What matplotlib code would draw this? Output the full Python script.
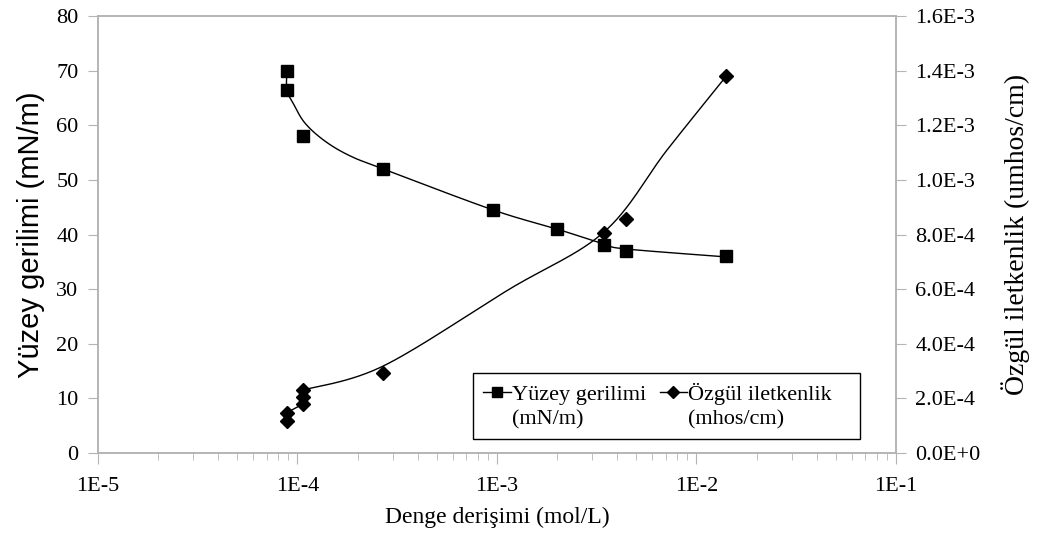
import numpy as np
import matplotlib
matplotlib.use("Agg")
import matplotlib.pyplot as plt
from matplotlib.patches import Rectangle
from matplotlib.ticker import FixedLocator, LogLocator, NullFormatter

# measured points: equilibrium concentration (mol/L)
conc_st = [8.85e-5, 8.85e-5, 1.07e-4, 2.69e-4, 9.55e-4, 2.0e-3, 3.44e-3, 4.44e-3, 1.41e-2]
surface_tension = [70.0, 66.5, 58.0, 52.0, 44.5, 41.0, 38.0, 37.0, 36.0]

conc_k = [8.85e-5, 8.85e-5, 1.07e-4, 1.07e-4, 1.07e-4, 2.69e-4, 3.44e-3, 4.44e-3, 1.41e-2]
conductivity = [1.17e-4, 1.48e-4, 1.80e-4, 2.05e-4, 2.30e-4, 2.93e-4, 8.05e-4, 8.57e-4, 1.38e-3]

# smoothed trend curves drawn through the data
fit_st_x = [8.85e-5, 8.85e-5, 9.49e-5, 1.09e-4, 1.373e-4, 1.833e-4, 2.69e-4,
            9.55e-4, 2.0e-3, 3.44e-3, 4.44e-3, 1.41e-2]
fit_st_y = [70.1, 66.45, 64.1, 60.4, 57.1, 54.4, 52.0,
            44.5, 41.0, 38.26, 37.35, 35.9]

fit_k_x = [1.07e-4, 2.69e-4, 1.135e-3, 3.44e-3, 7.11e-3, 1.41e-2]
fit_k_y = [2.307e-4, 3.185e-4, 5.968e-4, 8.092e-4, 1.109e-3, 1.380e-3]

x_ticks = [1e-5, 1e-4, 1e-3, 1e-2, 1e-1]
x_ticklabels = ["1E-5", "1E-4", "1E-3", "1E-2", "1E-1"]
left_ticks = list(range(0, 81, 10))
right_ticks = [0, 2e-4, 4e-4, 6e-4, 8e-4, 1.0e-3, 1.2e-3, 1.4e-3, 1.6e-3]
right_ticklabels = ["0.0E+0", "2.0E-4", "4.0E-4", "6.0E-4", "8.0E-4",
                    "1.0E-3", "1.2E-3", "1.4E-3", "1.6E-3"]

GRAY = "#b4b4b4"
SERIF = "Liberation Serif"
SANS = "Liberation Sans"


def smooth(xs, ys, ymax, n=30):
    # cubic bezier (Catmull-Rom tangents) in log-x / linear-y space
    u = np.log10(xs) * 199.5
    v = np.asarray(ys, float) / ymax * 437.0
    pts = np.column_stack([u, v])
    out = [pts[0]]
    for i in range(len(pts) - 1):
        p0 = pts[i - 1] if i > 0 else pts[i]
        p1, p2 = pts[i], pts[i + 1]
        p3 = pts[i + 2] if i + 2 < len(pts) else pts[i + 1]
        c1 = p1 + (p2 - p0) / 6.0
        c2 = p2 - (p3 - p1) / 6.0
        t = np.linspace(0, 1, n)[1:, None]
        seg = ((1 - t) ** 3) * p1 + 3 * ((1 - t) ** 2) * t * c1 + 3 * (1 - t) * t ** 2 * c2 + t ** 3 * p2
        out.extend(seg)
    out = np.array(out)
    return 10 ** (out[:, 0] / 199.5), out[:, 1] / 437.0 * ymax


fig = plt.figure(figsize=(10.38, 5.45), dpi=100)
ax = fig.add_axes([0.0944, 0.1688, 0.7688, 0.8018])
ax2 = ax.twinx()

sx, sy = smooth(fit_st_x, fit_st_y, 80)
ax.plot(sx, sy, color="black", lw=1.0, zorder=2)
ax.plot(conc_st, surface_tension, ls="none", marker="s", ms=8.5,
        color="black", zorder=3)

kx, ky = smooth(fit_k_x, fit_k_y, 1.6e-3)
ax2.plot(kx, ky, color="black", lw=1.0, zorder=2)
# short join between the lowest readings
ax2.plot(conc_k[:3], conductivity[:3], color="black", lw=1.0, zorder=2)
ax2.plot(conc_k, conductivity, ls="none", marker="D", ms=7.5,
         color="black", zorder=3)

ax.set_xscale("log")
ax.set_xlim(1e-5, 1e-1)
ax.set_ylim(0, 80)
ax2.set_ylim(0, 1.6e-3)

ax.xaxis.set_major_locator(FixedLocator(x_ticks))
ax.set_xticklabels(x_ticklabels, fontfamily=SERIF, fontsize=16)
ax.xaxis.set_minor_locator(LogLocator(base=10, subs=np.arange(2, 10)))
ax.xaxis.set_minor_formatter(NullFormatter())
ax.set_yticks(left_ticks)
ax.set_yticklabels([str(t) for t in left_ticks], fontfamily=SERIF, fontsize=16)
ax2.set_yticks(right_ticks)
ax2.set_yticklabels(right_ticklabels, fontfamily=SERIF, fontsize=16)

for a in (ax, ax2):
    for s in a.spines.values():
        s.set_color(GRAY)
        s.set_linewidth(1.2)
ax.tick_params(axis="x", which="major", length=8, color=GRAY, pad=9)
ax.tick_params(axis="x", which="minor", length=5, color=GRAY)
ax.tick_params(axis="y", length=7, color=GRAY, pad=7)
ax2.tick_params(axis="y", length=7, color=GRAY, pad=7)

ax.set_xlabel("Denge derişimi (mol/L)", fontfamily=SERIF, fontsize=17, labelpad=8)
ax.set_ylabel("Yüzey gerilimi (mN/m)", fontfamily=SANS, fontsize=21, labelpad=8)
ax2.set_ylabel("Özgül iletkenlik (umhos/cm)", fontfamily=SERIF, fontsize=20, labelpad=15)

# legend box is a bit wider than its entries, so the frame is drawn on its own
ax2.add_patch(Rectangle((0.470, 0.032), 0.485, 0.151, transform=ax2.transAxes,
                        facecolor="white", edgecolor="black", lw=1.0, zorder=4))
h1, = ax.plot([], [], color="black", lw=1.0, marker="s", ms=7.5)
h2, = ax.plot([], [], color="black", lw=1.0, marker="D", ms=6.5)
blank, = ax.plot([], [], ls="none")
leg = ax2.legend([h1, blank, h2, blank],
                 ["Yüzey gerilimi", "(mN/m)", "Özgül iletkenlik", "(mhos/cm)"],
                 ncol=2, loc="lower left", bbox_to_anchor=(0.470, 0.032),
                 prop={"family": SERIF, "size": 16}, frameon=False,
                 handlelength=1.25, handletextpad=0.05, columnspacing=0.6,
                 labelspacing=0.15, borderpad=0.45, borderaxespad=0)
leg.set_zorder(5)

fig.savefig("out.png", dpi=100)
